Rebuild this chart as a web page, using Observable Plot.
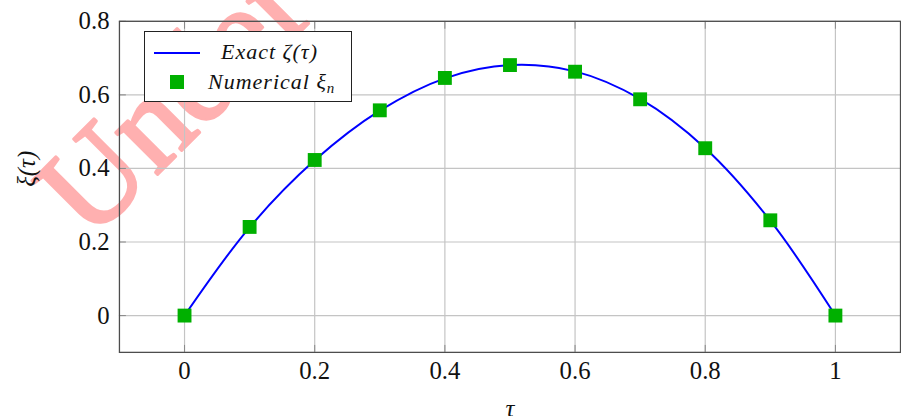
<!DOCTYPE html>
<html><head><meta charset="utf-8">
<script src="https://cdn.jsdelivr.net/npm/d3@7"></script>
<script src="https://cdn.jsdelivr.net/npm/@observablehq/plot@0.6"></script>
<style>
html,body{margin:0;padding:0;background:#fff;overflow:hidden;}
#wrap{position:relative;width:901px;height:420px;overflow:hidden;}
#legend{position:absolute;left:144px;top:31px;width:206px;height:69px;border:1px solid #222;background:#fff;
  font-family:"Liberation Serif","Times New Roman",Tinos,"DejaVu Serif","Noto Serif",serif;font-style:italic;font-size:22px;letter-spacing:1px;color:#111;}
#legend .t{position:absolute;height:30px;line-height:30px;white-space:nowrap;}
#legend sub{font-size:15px;vertical-align:-4px;line-height:0;}
#legend .ln{position:absolute;left:9px;top:20px;width:46px;height:2px;background:#0000ff;}
#legend .sq{position:absolute;left:25px;top:43px;width:14px;height:14px;background:#00b000;}
</style></head>
<body>
<div id="wrap"><div id="chart"></div>
<div id="legend">
  <div class="ln"></div><div class="t" style="left:76px;top:5px;">Exact ζ(τ)</div>
  <div class="sq"></div><div class="t" style="left:63px;top:35px;">Numerical ξ<sub>n</sub></div>
</div></div>
<script>
// ---- data ----
const exactTau = [0, 0.1, 0.2, 0.3, 0.4, 0.5, 0.6, 0.7, 0.8, 0.9, 1.0];
const exactXi  = [0, 0.240, 0.422, 0.557, 0.645, 0.681, 0.664, 0.589, 0.455, 0.258, 0];
const numTau   = [0, 0.1, 0.2, 0.3, 0.4, 0.5, 0.6, 0.7, 0.8, 0.9, 1.0];
const numXi    = [0, 0.241, 0.423, 0.558, 0.646, 0.681, 0.663, 0.588, 0.455, 0.259, 0];
const xTicks = [0, 0.2, 0.4, 0.6, 0.8, 1];
const xTickLabels = ["0", "0.2", "0.4", "0.6", "0.8", "1"];
const yTicks = [0, 0.2, 0.4, 0.6, 0.8];
const yTickLabels = ["0", "0.2", "0.4", "0.6", "0.8"];
const xLabel = "τ";
const yLabel = "ξ(τ)";
const watermark = "Under review";

const exact = exactTau.map((t, i) => ({t, v: exactXi[i]}));
const num = numTau.map((t, i) => ({t, v: numXi[i]}));
const fx = d => xTickLabels[xTicks.indexOf(d)];
const fy = d => yTickLabels[yTicks.indexOf(d)];

const chart = Plot.plot({
  width: 909, height: 420,
  marginLeft: 120, marginRight: 1, marginTop: 21, marginBottom: 65,
  x: {domain: [-0.1, 1.1], label: null},
  y: {domain: [-0.1, 0.8], label: null},
  style: {fontFamily: "'Liberation Serif', 'Times New Roman', Tinos, 'DejaVu Serif', 'Noto Serif', serif", fontSize: "25px", color: "#111", background: "white"},
  marks: [
    Plot.text([watermark], {frameAnchor: "top-left", text: d => d, dx: -30, dy: 223, rotate: -45,
      textAnchor: "start", lineAnchor: "bottom", fontSize: 130, fill: "#ffb0b0", stroke: "#ffb0b0", strokeWidth: 3}),
    Plot.gridX(xTicks, {stroke: "#c4c4c4", strokeOpacity: 1, strokeWidth: 1.2}),
    Plot.gridY(yTicks, {stroke: "#c4c4c4", strokeOpacity: 1, strokeWidth: 1.2}),
    Plot.axisX(xTicks, {label: null, tickSize: -7, tickPadding: 16, stroke: "#888", tickFormat: fx, fontSize: 25, letterSpacing: 1}),
    Plot.axisX(xTicks, {anchor: "top", label: null, tickSize: -7, stroke: "#888", tickFormat: () => ""}),
    Plot.axisY(yTicks, {label: null, tickSize: -7, tickPadding: 17, stroke: "#888", tickFormat: fy, fontSize: 25, letterSpacing: 1}),
    Plot.frame({stroke: "#4d4d4d", strokeWidth: 1.3}),
    Plot.line(exact, {x: "t", y: "v", stroke: "#0000ff", strokeWidth: 2, curve: "catmull-rom"}),
    Plot.dot(num, {x: "t", y: "v", symbol: "square", r: 7.9, fill: "#00b000", stroke: "none"}),
    Plot.text([yLabel], {frameAnchor: "left", text: d => d, dx: -93, rotate: -90, fontSize: 25, fontStyle: "italic"}),
    Plot.text([xLabel], {frameAnchor: "bottom", text: d => d, dy: 47, lineAnchor: "top", fontSize: 25, fontStyle: "italic"})
  ]
});
document.getElementById("chart").appendChild(chart);
</script>
</body></html>
